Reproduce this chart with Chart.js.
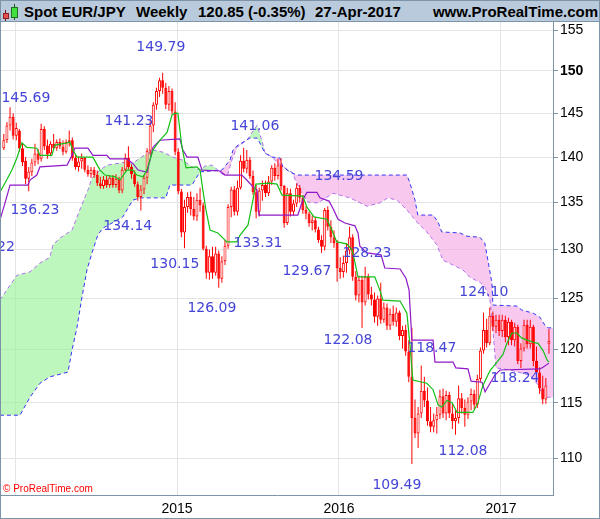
<!DOCTYPE html>
<html>
<head>
<meta charset="utf-8">
<script src="https://cdn.jsdelivr.net/npm/chart.js@4.4.1/dist/chart.umd.min.js"></script>
<style>
  html, body { margin: 0; padding: 0; background: #fff; }
  #frame { position: relative; width: 600px; height: 519px; box-sizing: border-box; border: 1px solid #7d93a8; overflow: hidden; background: #fff; }
  #head { position: absolute; left: 0; top: 0; width: 598px; height: 20px; background: #b8cadb; border-bottom: 1px solid #7d93a8;
          font-family: "Liberation Sans", Arial, sans-serif; font-weight: bold; font-size: 15px; color: #000; }
  #head span.t { position: absolute; top: 2px; white-space: nowrap; }
  .ic { position: absolute; box-sizing: border-box; }
  #plot { position: absolute; left: 0; top: 21px; }
</style>
</head>
<body>
<div id="frame">
  <div id="head">
    <div class="ic" style="left:4px;top:9px;width:1px;height:11px;background:#7a1010"></div>
    <div class="ic" style="left:2px;top:12px;width:6px;height:6px;background:#e85050;border:1px solid #8a2020"></div>
    <div class="ic" style="left:13px;top:3px;width:1px;height:16px;background:#106010"></div>
    <div class="ic" style="left:10px;top:6px;width:7px;height:11px;background:#40e040;border:1px solid #207020"></div>
    <span class="t" style="left:23px">Spot EUR/JPY</span>
    <span class="t" style="left:135px">Weekly</span>
    <span class="t" style="left:197px">120.85 (-0.35%)</span>
    <span class="t" style="left:314px">27-Apr-2017</span>
    <span class="t" style="right:1px">www.ProRealTime.com</span>
  </div>
  <canvas id="plot" width="598" height="496"></canvas>
</div>
<script>
// weekly candles, index 0 = week of 16-Dec-2013, index 175 = week of 24-Apr-2017
const opens = [
  141.0,141.9,143.6,144.6,142.4,143.0,141.0,139.6,137.6,138.3,
  139.4,140.4,139.8,143.2,141.3,140.4,141.5,141.0,141.7,141.2,
  140.6,141.7,141.9,139.9,138.9,139.5,139.9,138.6,138.1,138.6,
  138.0,137.1,136.8,137.5,136.9,137.7,136.9,137.6,136.3,138.6,
  139.9,138.9,138.1,137.0,135.6,136.4,137.7,140.7,143.6,146.0,
  147.6,148.9,148.0,146.0,147.6,145.2,140.6,136.2,131.8,134.5,
  135.6,134.3,133.5,135.3,134.7,130.1,127.6,129.3,127.6,129.6,
  127.0,128.8,130.4,134.5,136.4,134.0,136.6,139.6,138.7,139.7,
  137.9,136.1,134.0,136.3,136.9,136.0,137.3,138.8,137.9,139.1,
  136.8,132.8,136.0,134.0,134.9,136.6,135.5,134.2,133.8,132.8,
  133.1,132.1,131.0,130.3,134.2,132.4,131.3,130.7,128.1,127.7,
  128.6,129.9,131.3,127.2,125.3,126.9,124.6,127.2,125.4,124.9,
  123.2,125.0,122.9,124.1,122.3,123.5,122.7,123.6,121.3,121.9,
  119.8,117.4,113.6,112.2,114.0,116.1,115.2,113.3,112.8,113.4,
  113.9,115.6,114.0,115.7,114.0,113.3,113.6,115.4,114.5,113.9,
  115.1,115.8,114.8,117.2,119.9,121.9,120.6,123.3,122.2,122.9,
  121.8,122.9,121.2,122.7,120.9,122.2,118.9,120.1,122.4,120.5,
  122.2,118.9,117.8,116.3,115.3,120.55
];
const highs = [
  142.6,144.0,145.69,145.0,143.9,143.2,141.5,140.0,138.9,139.8,
  141.5,140.9,143.8,143.5,142.0,141.8,142.6,142.0,142.1,141.9,
  142.0,143.0,142.2,140.3,140.1,140.4,140.0,139.1,138.9,138.9,
  138.5,137.8,137.9,137.9,138.0,138.0,138.1,137.8,138.9,140.4,
  141.23,139.2,138.5,137.3,136.9,138.0,141.0,144.2,146.3,148.0,
  149.2,149.79,148.6,148.2,147.9,146.3,141.0,136.5,135.3,136.1,
  136.2,135.6,136.0,136.6,135.0,130.4,130.0,130.3,130.3,129.9,
  129.3,131.0,134.8,136.7,136.8,137.4,140.2,141.06,140.8,140.0,
  138.5,136.9,136.6,137.4,137.4,137.9,139.1,139.3,139.8,139.9,
  136.9,136.6,136.5,135.3,137.1,136.9,135.8,134.6,134.0,133.6,
  133.4,132.4,131.5,134.4,134.59,133.1,132.0,131.0,129.2,129.4,
  130.7,132.4,131.6,127.8,127.3,127.3,128.23,127.5,126.2,125.6,
  125.3,126.6,124.6,124.5,124.0,124.3,124.1,123.8,122.3,122.4,
  120.9,122.1,115.3,114.6,118.47,117.4,116.4,114.6,114.0,114.6,
  116.2,116.3,116.1,116.0,114.9,114.3,116.6,115.9,115.3,115.5,
  116.3,116.2,117.6,120.2,123.6,123.0,124.10,123.7,123.4,123.4,
  123.4,123.3,123.1,122.9,122.6,122.4,120.6,122.9,122.9,122.9,
  122.4,120.3,118.3,117.5,117.3,122.0
];
const lows = [
  140.8,141.6,143.0,142.0,141.9,140.6,139.0,137.0,136.23,137.9,
  139.0,139.2,139.5,140.8,139.8,140.1,140.9,140.7,140.9,140.2,
  140.4,141.2,139.6,138.6,138.4,138.7,138.3,137.8,137.7,137.7,
  136.8,136.5,136.5,136.6,136.6,136.6,136.6,136.0,136.0,138.4,
  138.6,137.6,136.7,135.2,134.14,135.9,137.0,140.2,142.8,145.4,
  146.9,147.3,145.5,145.3,144.9,140.2,135.9,131.3,130.15,133.9,
  133.6,133.1,133.0,134.0,129.9,127.0,126.9,127.0,127.3,126.09,
  126.6,128.4,130.1,133.4,133.6,133.6,136.4,138.3,138.2,137.6,
  135.8,133.31,133.5,135.2,135.6,135.7,136.9,137.4,137.5,136.3,
  132.3,132.6,133.5,133.6,134.5,135.0,133.8,133.2,132.4,132.0,
  131.8,130.7,129.67,129.9,132.0,130.7,130.2,126.7,127.0,127.1,
  127.6,129.5,126.8,124.8,124.6,122.08,124.3,124.9,124.3,122.6,
  122.3,122.5,122.6,121.9,121.9,122.3,122.2,120.9,120.1,119.4,
  116.9,109.49,111.8,110.9,113.6,114.6,112.9,112.3,112.3,112.2,
  113.5,113.6,113.4,113.6,112.6,112.08,113.1,114.0,112.8,113.5,
  114.3,114.4,114.5,116.9,119.6,120.2,120.4,121.8,121.6,121.3,
  121.2,120.7,120.4,120.4,120.3,118.6,118.24,119.8,120.1,120.1,
  118.4,117.3,115.8,114.85,114.9,119.6
];
const closes = [
  141.9,143.6,144.6,142.4,143.3,141.0,139.4,137.6,138.4,139.4,
  140.4,139.7,143.2,141.2,140.3,141.5,141.0,141.7,141.2,140.6,
  141.7,141.9,139.9,138.9,139.5,139.9,138.6,138.1,138.6,138.0,
  137.1,136.8,137.5,136.9,137.7,136.9,137.6,136.3,138.6,139.9,
  138.9,138.1,137.0,135.6,136.4,137.7,140.7,143.6,146.0,147.6,
  148.9,148.0,146.0,147.6,145.2,140.6,136.2,131.8,134.5,135.6,
  134.3,133.5,135.3,134.7,130.1,127.6,129.3,127.6,129.6,127.0,
  128.8,130.4,134.5,136.4,134.0,136.6,139.6,138.7,139.7,137.9,
  136.1,134.0,136.3,136.9,136.0,137.3,138.8,137.9,139.1,136.8,
  132.8,136.0,134.0,134.9,136.6,135.5,134.2,133.8,132.8,133.1,
  132.1,131.0,130.3,134.2,132.4,131.3,130.7,128.1,127.7,128.6,
  129.9,131.3,127.2,125.3,126.9,124.6,127.2,125.4,124.9,123.2,
  125.0,122.9,124.1,122.3,123.5,122.7,123.6,121.3,121.9,119.8,
  117.4,113.6,112.2,114.0,116.1,115.2,113.3,112.8,113.4,113.9,
  115.6,114.0,115.7,114.0,113.3,113.6,115.4,114.5,113.9,115.1,
  115.8,114.8,117.2,119.9,121.9,120.6,123.3,122.2,122.9,121.8,
  122.9,121.2,122.7,120.9,122.2,118.9,120.1,122.4,120.5,122.2,
  118.9,117.8,116.3,115.3,116.6,120.85
];

// ichimoku lines: [week index, price]
const tenkan = [
  [-1.25,136.1],[0.35,137.1],[2.6,138.55],[4.2,139.9],[5.8,141.6],[7.4,141.1],[10.6,141.0],[11.6,140.2],
  [15.4,140.2],[16.4,141.35],[20.3,141.6],[21.2,141.7],[22.2,140.8],[23.5,140.0],[28.6,140.0],[30.9,138.55],
  [32.5,138.0],[35.7,137.8],[37.3,137.45],[39.5,138.55],[41.4,138.55],[42.7,138.0],[44.7,137.8],[45.9,138.55],
  [47.9,140.8],[50.1,141.9],[52.4,142.8],[54.0,144.8],[54.9,145.0],[55.9,145.0],[57.2,141.1],[58.5,138.8],
  [62.0,138.9],[63.0,138.55],[63.9,136.35],[64.9,134.2],[66.2,132.05],[68.7,131.75],[71.6,130.8],[74.8,130.8],
  [75.8,131.5],[78.4,132.6],[80.0,135.3],[80.9,137.0],[85.4,137.1],[87.7,137.0],[89.3,135.8],[96.0,135.7],
  [97.3,134.5],[99.6,133.45],[103.7,133.2],[105.3,132.05],[106.9,130.8],[110.1,130.6],[111.8,129.95],[112.7,128.7],
  [113.7,127.2],[119.1,127.2],[120.7,125.85],[121.7,124.85],[127.2,124.75],[129.4,123.55],[130.4,120.4],[131.3,117.1],
  [135.8,116.8],[137.8,116.2],[139.4,114.8],[140.6,114.6],[142.3,115.2],[143.9,115.0],[145.5,114.1],[150.6,114.1],
  [152.2,115.0],[153.8,116.6],[156.1,118.0],[158.3,118.8],[160.2,119.5],[161.5,120.6],[163.1,121.6],[164.7,121.6],
  [166.3,121.1],[169.9,120.7],[171.5,120.6],[173.1,119.9],[174.4,119.0],[175,118.8]
];
const kijun = [
  [-1.25,133.1],[0.35,134.9],[2.0,136.9],[7.7,136.9],[8.4,137.45],[10.6,138.0],[11.6,138.9],[20.3,139.1],
  [21.9,140.2],[22.8,141.0],[27.0,141.0],[28.6,140.2],[33.1,140.2],[34.1,139.8],[39.5,139.8],[41.4,139.3],
  [43.1,138.55],[46.0,138.3],[47.9,141.1],[50.1,141.9],[56.5,142.05],[57.5,140.8],[58.8,140.0],[62.3,140.0],
  [63.6,138.55],[69.4,138.45],[71.0,138.0],[76.4,138.0],[78.0,137.45],[80.0,136.7],[81.3,136.35],[81.9,133.65],
  [94.4,133.65],[96.0,135.3],[97.3,136.1],[100.5,136.1],[101.5,135.5],[104.4,135.15],[105.6,134.4],[107.3,133.2],
  [109.5,132.8],[112.7,132.5],[113.7,131.75],[114.3,130.35],[116.6,129.65],[121.1,129.45],[122.3,128.1],[127.2,128.0],
  [129.1,127.05],[130.1,125.85],[131.0,120.9],[137.8,120.9],[138.4,118.8],[144.2,118.8],[145.1,118.25],[149.0,118.15],
  [150.0,117.0],[153.5,116.9],[154.5,116.0],[156.1,116.8],[157.6,117.55],[159.3,118.05],[172.1,118.15],[173.1,118.3],
  [175,118.7]
];
const spanA = [
  [-1.25,124.85],[4.2,127.35],[8.4,127.7],[11.6,128.6],[14.8,129.2],[15.8,130.5],[18.0,131.2],[21.9,132.05],
  [24.4,134.2],[27.0,136.35],[28.3,137.65],[30.9,138.55],[33.1,139.1],[39.5,139.45],[41.4,139.3],[43.7,139.9],
  [47.9,140.8],[51.1,140.55],[54.3,140.0],[57.5,139.65],[60.4,138.9],[63.0,138.55],[64.6,139.0],[66.8,139.1],
  [68.7,138.55],[70.0,138.1],[71.9,138.1],[73.2,139.65],[74.8,141.1],[78.0,141.9],[81.3,143.6],[82.9,141.8],
  [83.8,140.55],[86.1,140.0],[88.0,139.3],[90.2,138.8],[92.5,138.3],[95.1,136.35],[97.6,135.05],[100.8,134.95],
  [105.7,136.0],[111.1,135.5],[116.6,134.6],[120.7,134.95],[123.3,135.5],[126.2,135.25],[129.4,134.2],[132.6,132.9],
  [135.8,131.85],[139.0,130.5],[141.0,128.9],[144.2,128.4],[147.4,127.9],[149.6,127.15],[152.8,126.65],[154.5,126.15],
  [156.1,124.85],[157.0,121.9],[158.0,118.25],[162.5,118.05],[168.9,117.55],[171.5,116.65],[173.1,115.5],[176.3,115.5]
];
const spanB = [
  [-1.25,113.85],[5.2,113.85],[8.4,115.5],[11.6,116.8],[14.8,117.4],[20.6,117.85],[21.9,119.95],[23.5,122.15],
  [25.1,125.15],[26.7,127.9],[28.3,129.65],[30.2,131.55],[31.8,132.25],[38.2,133.45],[41.4,135.25],[43.7,135.5],
  [52.0,135.5],[53.3,136.9],[60.4,136.9],[63.0,138.35],[70.0,138.55],[72.6,139.65],[73.6,140.8],[74.8,141.25],
  [79.0,142.15],[81.3,142.15],[82.2,141.6],[83.8,140.45],[86.1,140.0],[88.6,139.9],[89.6,138.9],[91.8,138.35],
  [94.1,138.0],[129.4,138.0],[130.4,137.1],[132.0,135.25],[132.9,133.65],[137.8,133.65],[139.4,132.9],[140.6,131.85],
  [146.4,131.75],[148.7,131.4],[152.8,131.3],[154.4,130.7],[155.4,128.9],[156.7,126.55],[157.0,124.35],[164.7,124.25],
  [166.3,123.85],[169.9,123.55],[172.1,123.15],[173.7,122.35],[174.7,122.1],[176.3,122.1]
];

// swing labels: text, anchor week index, anchor price
const swingText  = ['145.69','136.23','132.22','141.23','134.14','149.79','130.15','126.09','141.06','133.31',
                    '134.59','129.67','128.23','122.08','124.10','118.47','109.49','112.08','118.24'];
const swingIdx   = [7.1, 10.0, -4.3, 40.2, 39.8, 50.4, 54.9, 66.8, 80.6, 81.6,
                    107.6, 97.3, 116.6, 110.5, 154.1, 137.4, 126.2, 147.4, 164.1];
const swingPrice = [146.8, 134.2, 130.27, 144.1, 132.4, 152.9, 128.5, 124.05, 143.5, 130.7,
                    137.9, 127.8, 129.65, 120.9, 125.65, 120.15, 107.65, 110.6, 117.3];

const priceTicks = [110, 115, 120, 125, 130, 135, 140, 145, 150, 155];
const yearTicks = [3.6, 55.6, 107.6, 159.6];
const yearLabels = ['', '2015', '2016', '2017'];

const RED = '#ff0000';
const pts = arr => arr.map(p => ({x: p[0], y: p[1]}));

const wickData = opens.map((o, i) => ({x: i, y: [lows[i], highs[i]]}));
const bodyData = opens.map((o, i) => ({x: i, y: [o, closes[i]]}));
const bodyFill = opens.map((o, i) => closes[i] >= o ? '#ffffff' : RED);

const annotations = {
  id: 'annotations',
  afterDatasetsDraw(chart) {
    const {ctx, chartArea} = chart;
    const xs = chart.scales.x, ys = chart.scales.y;
    ctx.save();
    ctx.font = '14px "DejaVu Sans"';
    ctx.fillStyle = '#4444d8';
    ctx.textAlign = 'center';
    ctx.textBaseline = 'middle';
    swingText.forEach((t, i) => {
      ctx.fillText(t, xs.getPixelForValue(swingIdx[i]), ys.getPixelForValue(swingPrice[i]));
    });
    ctx.font = '10px "Liberation Sans"';
    ctx.fillStyle = RED;
    ctx.textAlign = 'left';
    ctx.fillText('\u00A9 ProRealTime.com', chartArea.left + 2, chartArea.bottom - 6);
    ctx.restore();
  }
};

new Chart(document.getElementById('plot'), {
  type: 'line',
  data: {
    datasets: [
      {
        label: 'Senkou A', data: pts(spanA), order: 10,
        borderColor: '#b070ea', borderWidth: 1, borderDash: [4, 3], pointRadius: 0,
        fill: {target: '+1', above: 'rgba(150,242,150,0.62)', below: 'rgba(245,160,225,0.58)'}
      },
      {
        label: 'Senkou B', data: pts(spanB), order: 9,
        borderColor: '#3434f4', borderWidth: 1, borderDash: [4, 3], pointRadius: 0, fill: false
      },
      {
        type: 'bar', label: 'wick', data: wickData, order: 5,
        backgroundColor: RED, borderWidth: 0, barThickness: 1, grouped: false, inflateAmount: 0
      },
      {
        type: 'bar', label: 'body', data: bodyData, order: 4,
        backgroundColor: bodyFill, borderColor: RED, borderWidth: 1, borderSkipped: false,
        barThickness: 3, grouped: false, inflateAmount: 0
      },
      {
        label: 'Kijun', data: pts(kijun), order: 2,
        borderColor: '#9018c8', borderWidth: 1.2, pointRadius: 0, fill: false
      },
      {
        label: 'Tenkan', data: pts(tenkan), order: 1,
        borderColor: '#14c014', borderWidth: 1.2, pointRadius: 0, fill: false
      }
    ]
  },
  options: {
    responsive: false,
    animation: false,
    layout: {padding: 0, autoPadding: false},
    plugins: {legend: {display: false}, tooltip: {enabled: false}, filler: {propagate: false}},
    scales: {
      x: {
        type: 'linear', position: 'bottom', min: -0.9, max: 176.3, bounds: 'data', offset: false,
        afterBuildTicks: s => { s.ticks = yearTicks.map(v => ({value: v})); },
        afterFit: s => { s.height = 23; s.paddingLeft = 0; s.paddingRight = 0; },
        grid: {color: '#e4e4e4', drawTicks: false, offset: false},
        border: {color: '#7d93a8'},
        ticks: {
          autoSkip: false, maxRotation: 0, padding: 6, color: '#000',
          font: {family: 'Liberation Sans', size: 14},
          callback: (v, i) => yearLabels[i]
        }
      },
      y: {
        type: 'logarithmic', position: 'right', min: 106.8, max: 156.0, bounds: 'data',
        afterBuildTicks: s => { s.ticks = priceTicks.map(v => ({value: v})); },
        afterFit: s => { s.width = 46; s.paddingTop = 0; s.paddingBottom = 0; },
        grid: {color: '#e4e4e4', tickColor: '#7d93a8', tickLength: 5},
        border: {color: '#7d93a8'},
        ticks: {
          padding: 2, color: '#000',
          font: c => ({family: 'Liberation Sans', size: 14, weight: (c.tick && c.tick.value === 150) ? 'bold' : 'normal'}),
          callback: v => String(v)
        }
      }
    }
  },
  plugins: [annotations]
});
</script>
</body>
</html>
